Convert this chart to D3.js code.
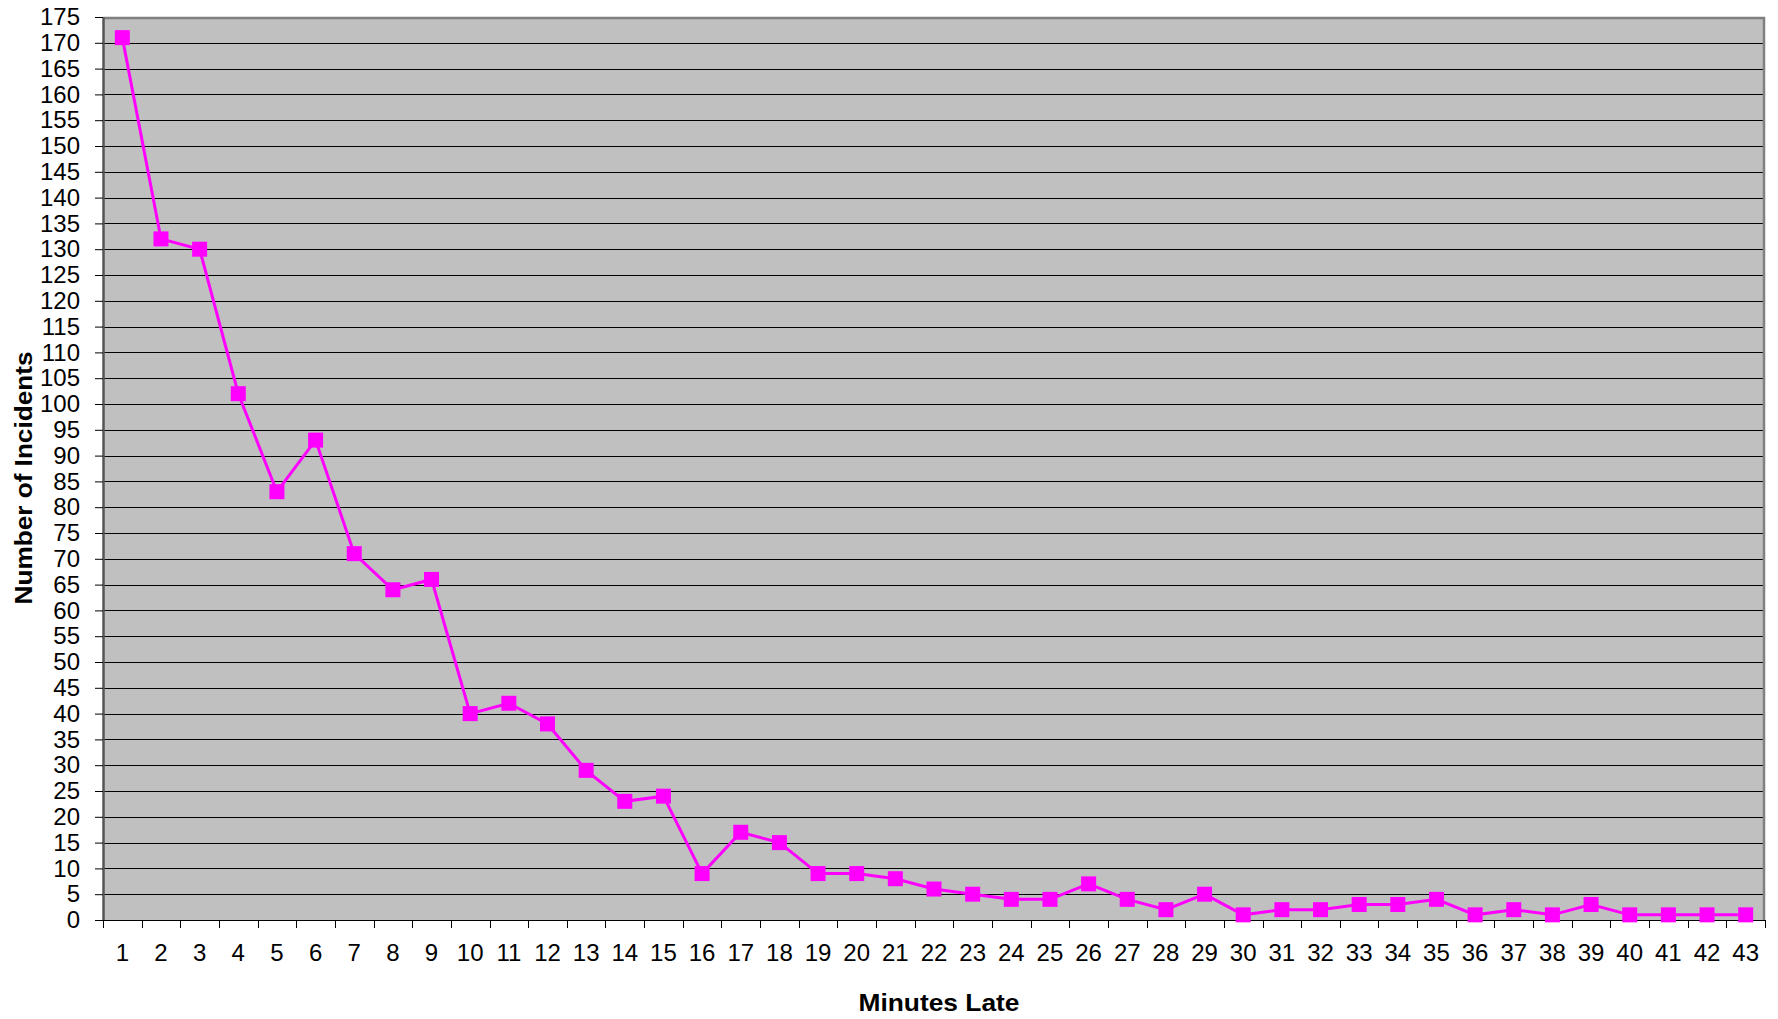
<!DOCTYPE html>
<html lang="en">
<head>
<meta charset="UTF-8">
<title>Minutes Late</title>
<style>
  body { margin: 0; background: #fff; }
  svg { display: block; font-family: 'Liberation Sans', Arial, sans-serif; }
  .tick text { font-size: 24px; fill: #000; }
  .axis-title { font-size: 24px; font-weight: bold; fill: #000; }
</style>
</head>
<body>
<div id="chart"></div>
<script src="https://d3js.org/d3.v7.min.js"></script>
<script>
// data
const minutes = d3.range(1, 44);
const incidents = [171, 132, 130, 102, 83, 93, 71, 64, 66, 40, 42, 38, 29, 23, 24, 9, 17, 15, 9, 9,
                   8, 6, 5, 4, 4, 7, 4, 2, 5, 1, 2, 2, 3, 3, 4, 1, 2, 1, 3, 1, 1, 1, 1];
const yTicks = d3.range(0, 180, 5);

const width = 1778, height = 1019;
const margin = { top: 17, right: 13, bottom: 99, left: 103 };
const plotW = width - margin.left - margin.right;
const plotH = height - margin.top - margin.bottom;

const svg = d3.select("#chart").append("svg")
    .attr("width", width)
    .attr("height", height);

const g = svg.append("g")
    .attr("transform", `translate(${margin.left},${margin.top})`);

const x = d3.scaleBand().domain(minutes).range([0, plotW]);
const y = d3.scaleLinear().domain([0, 175]).range([plotH, 0]);

// plot background
g.append("rect")
    .attr("width", plotW)
    .attr("height", plotH)
    .attr("fill", "#c0c0c0");

// gridlines
g.append("g")
    .selectAll("line")
    .data(yTicks.filter(d => d > 0 && d < 175))
    .enter().append("line")
    .attr("x1", 0).attr("x2", plotW)
    .attr("y1", d => Math.round(y(d)) + 0.5)
    .attr("y2", d => Math.round(y(d)) + 0.5)
    .attr("stroke", "#000")
    .attr("stroke-width", 1);

// top and right border
g.append("path")
    .attr("d", `M0,1 H${plotW - 1} V${plotH}`)
    .attr("fill", "none")
    .attr("stroke", "#808080")
    .attr("stroke-width", 2.5);

// y axis
const yAxis = g.append("g")
    .call(d3.axisLeft(y).tickValues(yTicks).tickSize(8).tickPadding(15).tickSizeOuter(0));
yAxis.select(".domain").attr("stroke", "#555").attr("stroke-width", 2.5);
yAxis.selectAll(".tick line").attr("stroke", "#000");
yAxis.selectAll(".tick text").attr("font-size", null).attr("font-family", null);

// x axis
const xTickPos = d3.range(0, minutes.length + 1).map(i => i * x.step());
const xAxisG = g.append("g").attr("transform", `translate(0,${plotH})`);
xAxisG.append("line")
    .attr("x1", 0).attr("x2", plotW)
    .attr("y1", 0.5).attr("y2", 0.5)
    .attr("stroke", "#000");
xAxisG.selectAll(".xt")
    .data(xTickPos)
    .enter().append("line")
    .attr("class", "xt")
    .attr("x1", d => Math.round(d) + 0.5).attr("x2", d => Math.round(d) + 0.5)
    .attr("y1", 0).attr("y2", 8)
    .attr("stroke", "#000");
xAxisG.selectAll(".tick")
    .data(minutes)
    .enter().append("g")
    .attr("class", "tick")
    .append("text")
    .attr("x", d => x(d) + x.bandwidth() / 2)
    .attr("y", 41)
    .attr("text-anchor", "middle")
    .text(d => d);

// axis titles (reference font runs wider, so stretch to its measured length)
svg.append("text")
    .attr("class", "axis-title")
    .attr("x", 939)
    .attr("y", 1011)
    .attr("text-anchor", "middle")
    .attr("textLength", 161)
    .attr("lengthAdjust", "spacingAndGlyphs")
    .text("Minutes Late");

svg.append("text")
    .attr("class", "axis-title")
    .attr("transform", `translate(32,478) rotate(-90)`)
    .attr("text-anchor", "middle")
    .attr("textLength", 253)
    .attr("lengthAdjust", "spacingAndGlyphs")
    .text("Number of Incidents");

// series line
const line = d3.line()
    .x((d, i) => x(minutes[i]) + x.bandwidth() / 2)
    .y(d => y(d));

g.append("path")
    .datum(incidents)
    .attr("d", line)
    .attr("fill", "none")
    .attr("stroke", "#ff00ff")
    .attr("stroke-width", 3);

// markers
const ms = 15;
g.append("g")
    .selectAll("rect")
    .data(incidents)
    .enter().append("rect")
    .attr("x", (d, i) => x(minutes[i]) + x.bandwidth() / 2 - ms / 2)
    .attr("y", d => y(d) - ms / 2)
    .attr("width", ms)
    .attr("height", ms)
    .attr("fill", "#ff00ff");
</script>
</body>
</html>
